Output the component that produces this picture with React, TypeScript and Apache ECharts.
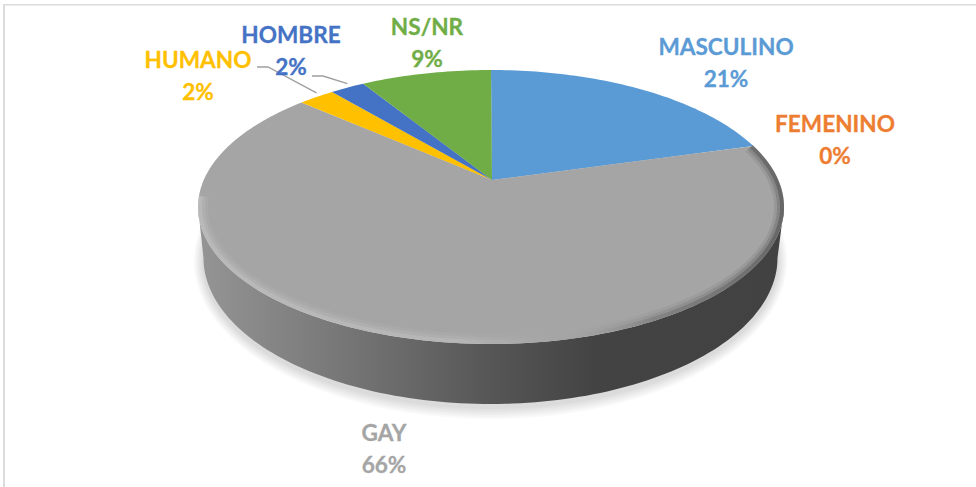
import React, { useEffect, useRef } from "react";
import * as echarts from "echarts";

const categories = ["MASCULINO", "FEMENINO", "GAY", "HUMANO", "HOMBRE", "NS/NR"];
const values = [20.6, 0, 66, 2.4, 2.3, 8.7];
const colors = ["#5B9BD5", "#ED7D31", "#A5A5A5", "#FFC000", "#4472C4", "#70AD47"];

const W = 976, H = 487;
// projected disc geometry
const TOP = { cx: 491, cy: 207, rx: 293, ry: 137 };
const BOTTOM = { cx: 490.5, cy: 258, rx: 287, ry: 146 };
const APEX_SHIFT = -0.197;
const FONT = "Lato";
const LABEL_POS: Record<string, [number, number]> = {
  MASCULINO: [726, 62], FEMENINO: [835, 139], GAY: [384, 448], HUMANO: [198, 75], HOMBRE: [291, 50], "NS/NR": [427, 42],
};
const LEADERS: Record<string, [number, number][]> = {
  HUMANO: [[257, 67], [268, 67]],
  HOMBRE: [[312, 76], [323, 76]],
};

const total = values.reduce((a, b) => a + b, 0);
function rimPoint(fr: number, e = TOP): [number, number] {
  const t = fr * 2 * Math.PI;
  const sx = Math.sin(t), sy = -Math.cos(t), a = APEX_SHIFT;
  const d = 1 + a * sy;
  const x = (sx * Math.sqrt(1 - a * a)) / d, y = (sy + a) / d;
  return [e.cx + e.rx * x, e.cy + e.ry * y];
}
const apex = [TOP.cx + 1, TOP.cy + TOP.ry * APEX_SHIFT];
function halfArc(e: typeof TOP, from: number, to: number, n = 120): number[][] {
  const pts: number[][] = [];
  for (let i = 0; i <= n; i++) {
    const t = from + ((to - from) * i) / n;
    pts.push([e.cx + e.rx * Math.cos(t), e.cy + e.ry * Math.sin(t)]);
  }
  return pts;
}
const hGrad = (x0: number, x1: number, stops: [number, string][]) => ({
  type: "linear", global: true, x: x0, y: 0, x2: x1, y2: 0,
  colorStops: stops.map(([offset, color]) => ({ offset, color })),
});

function renderSlice(_: any, api: any) {
  const idx = api.value(0) as number;
  let before = 0;
  for (let i = 0; i < idx; i++) before += values[i];
  const from = before / total, to = (before + (api.value(1) as number)) / total;
  const pts: number[][] = [apex];
  const n = Math.max(2, Math.ceil((to - from) * 300));
  for (let i = 0; i <= n; i++) pts.push(rimPoint(from + ((to - from) * i) / n));
  const name = categories[idx];
  const children: any[] = [
    { type: "polygon", shape: { points: pts }, style: { fill: colors[idx] }, z2: 10 },
  ];
  const [lx, ly] = LABEL_POS[name];
  children.push({
    type: "text", z2: 30, x: lx, y: ly,
    style: {
      text: `${name}\n${Math.round((api.value(1) as number) / total * 100)}%`,
      fill: colors[idx], stroke: colors[idx], lineWidth: 0.3,
      font: `bold 22.6px ${FONT}`, align: "center", verticalAlign: "middle", lineHeight: 32,
    },
  });
  if (LEADERS[name]) {
    const mid = rimPoint((from + to) / 2);
    children.push({
      type: "polyline", z2: 25,
      shape: { points: [...LEADERS[name], [mid[0], mid[1] - 4]] },
      style: { stroke: "#A0A0A0", lineWidth: 1.4, fill: "none" },
    });
  }
  return { type: "group", children };
}

function renderBody() {
  const lower = halfArc(BOTTOM, Math.PI, 0);
  const upper = halfArc(TOP, 0, Math.PI);
  const wall = [...upper, ...lower];
  const glow = [12, 10, 8, 6, 4, 2].map((k, i) => ({
    type: "polygon", z2: 1 + i * 0.01,
    shape: {
      points: halfArc({ cx: BOTTOM.cx, cy: BOTTOM.cy + 3, rx: BOTTOM.rx + k * 0.8, ry: BOTTOM.ry + k }, 0, Math.PI * 2, 200),
    },
    style: { fill: "rgba(0,0,0,0.022)" },
  }));
  return {
    type: "group",
    children: [
      ...glow,
      {
        type: "polygon", z2: 2, shape: { points: wall },
        style: {
          fill: hGrad(198, 784, [[0, "#959595"], [0.22, "#7a7a7a"], [0.5, "#565656"], [0.68, "#434343"], [1, "#424242"]]),
        },
      },
    ],
  };
}

function renderRim() {
  const rimFrom = rimPoint(values[0] / total);
  const startAngle = Math.atan2((rimFrom[1] - TOP.cy) / TOP.ry, (rimFrom[0] - TOP.cx) / TOP.rx);
  const rimGrad = (a: number) => hGrad(198, 784, [
    [0, `rgba(212,212,212,${a})`], [0.45, `rgba(205,205,205,${a})`], [0.62, `rgba(165,165,165,${a * 0.2})`],
    [0.78, `rgba(70,70,70,${a * 0.8})`], [1, `rgba(40,40,40,${a * 1.2})`],
  ]);
  const rim = (inset: number, width: number, a: number, z2: number) => ({
    type: "polyline", z2,
    shape: {
      points: halfArc(
        { cx: TOP.cx, cy: TOP.cy, rx: TOP.rx - inset, ry: TOP.ry - inset },
        startAngle, Math.PI + 0.08, 160
      ),
    },
    style: { stroke: rimGrad(a), lineWidth: width, fill: "none" },
  });
  return { type: "group", children: [rim(5, 10, 0.09, 20), rim(3.5, 7, 0.15, 21), rim(2, 4, 0.26, 22)] };
}

export default function App() {
  const ref = useRef<HTMLDivElement>(null);
  useEffect(() => {
    const chart = echarts.init(ref.current!, undefined, { renderer: "svg" });
    chart.setOption({
      animation: false,
      backgroundColor: "#ffffff",
      series: [
        { type: "custom", coordinateSystem: "none", silent: true, z: 1, data: [[0]], renderItem: renderBody },
        {
          type: "custom", coordinateSystem: "none", silent: true, z: 2,
          data: categories.map((c, i) => [i, values[i]]), renderItem: renderSlice,
        },
        { type: "custom", coordinateSystem: "none", silent: true, z: 3, data: [[0]], renderItem: renderRim },
      ],
      graphic: [
        { type: "rect", silent: true, shape: { x: 3, y: 4, width: W - 3, height: 1.5 }, style: { fill: "#DCDCDC" } },
        { type: "rect", silent: true, shape: { x: 3, y: 4, width: 2, height: H - 4 }, style: { fill: "#DCDCDC" } },
      ],
    });
    return () => chart.dispose();
  }, []);
  return <div ref={ref} style={{ position: "fixed", left: 0, top: 0, width: W, height: H }} />;
}
